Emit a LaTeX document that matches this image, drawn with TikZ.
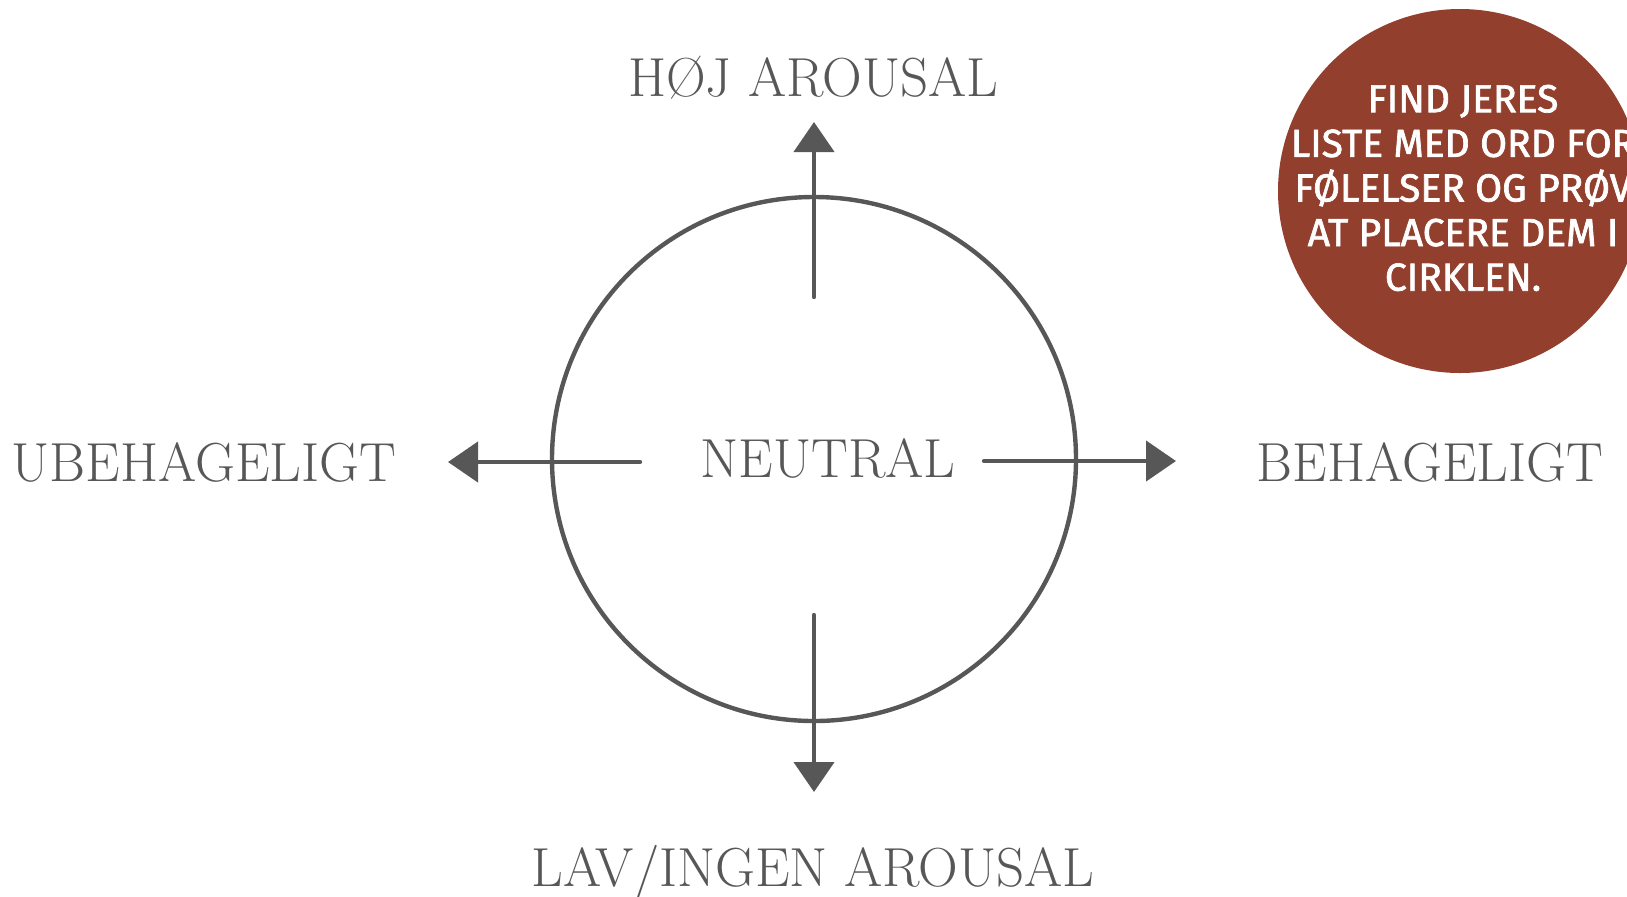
\documentclass[tikz,border=0pt]{standalone}
\usepackage{fontspec}
\usepackage{xcolor}
\usetikzlibrary{arrows.meta,positioning}
\newfontfamily\dinfont{Fira Sans}[FakeBold=1.8]
\definecolor{pencil}{HTML}{575757}
\definecolor{rust}{HTML}{933F2D}

\begin{document}
\begin{tikzpicture}[
  x=0.5pt, y=-0.5pt,
  axis/.style={pencil, line width=2.2pt, line cap=round,
               -{Triangle[length=15pt, width=20pt]}},
  ring/.style={draw=pencil, line width=2.2pt, circle, minimum size=262pt,
               inner sep=0pt},
  lbl/.style={text=pencil, font=\fontsize{27.5}{32}\selectfont, anchor=base,
              inner sep=0pt},
  note/.style={circle, fill=rust, minimum size=182pt, inner sep=0pt},
  notetxt/.style={text=white, align=center, inner sep=0pt,
                  font=\dinfont\fontsize{19.5}{22.3}\selectfont}
]
\clip (0,0) rectangle (1627,896);

% ---- valence/arousal circle -------------------------------------------
\node[ring] (wheel) at (814,459) {};
\node[lbl] (neutral) at (828,477) {NEUTRAL};

% ---- axis ends ---------------------------------------------------------
\coordinate (upS) at (814,297);   \coordinate (upT) at (814,122);
\coordinate (dnS) at (814,615);   \coordinate (dnT) at (814,792);
\coordinate (lfS) at (640,462);   \coordinate (lfT) at (448,462);
\coordinate (rtS) at (984,461);   \coordinate (rtT) at (1176,461);
\draw[axis] (upS) -- (upT);
\draw[axis] (dnS) -- (dnT);
\draw[axis] (lfS) -- (lfT);
\draw[axis] (rtS) -- (rtT);

% ---- axis labels -------------------------------------------------------
\node[lbl] (high) at (813,96) {HØJ AROUSAL};
\node[lbl] (low) at (813,886) {LAV/INGEN AROUSAL};
\node[lbl] (unpleasant) at (204,481) {UBEHAGELIGT};
\node[lbl] (pleasant) at (1430,481) {BEHAGELIGT};

% ---- task note ---------------------------------------------------------
\node[note] (task) at (1460,191) {};
\node[notetxt] (tasktxt) at (1463,188) {FIND JERES\\
  LISTE MED ORD FOR\\ FØLELSER OG PRØV\\
  AT PLACERE DEM I\\ CIRKLEN.};
\end{tikzpicture}
\end{document}
